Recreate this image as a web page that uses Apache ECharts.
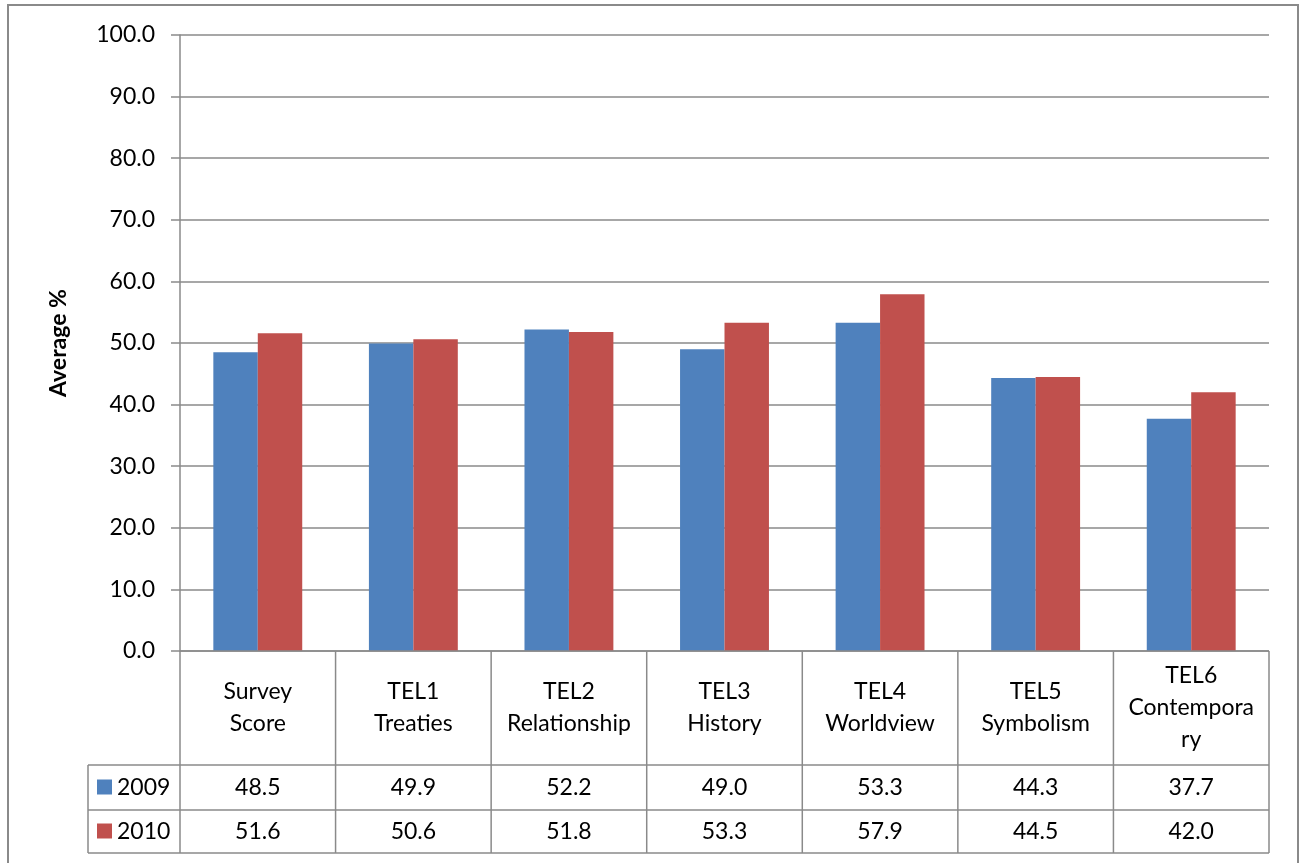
<!DOCTYPE html>
<html>
<head>
<meta charset="utf-8">
<script src="https://cdn.jsdelivr.net/npm/echarts@6/dist/echarts.min.js"></script>
<style>
  html, body { margin: 0; padding: 0; background: #ffffff; }
  #chart { width: 1299px; height: 863px; }
</style>
</head>
<body>
<div id="chart"></div>
<script>
// Category headers of the data table (line breaks as wrapped in the cells)
const categories = [
  'Survey\nScore',
  'TEL1\nTreaties',
  'TEL2\nRelationship',
  'TEL3\nHistory',
  'TEL4\nWorldview',
  'TEL5\nSymbolism',
  'TEL6\nContempora\nry'
];
const seriesNames = ['2009', '2010'];
const values2009 = [48.5, 49.9, 52.2, 49.0, 53.3, 44.3, 37.7];
const values2010 = [51.6, 50.6, 51.8, 53.3, 57.9, 44.5, 42.0];
const seriesColors = ['#4F81BD', '#C0504D'];

const FONT = 'Lato, "Open Sans", sans-serif';
const FS = 23;
const LINE = '#8a8a8a';

const chart = echarts.init(document.getElementById('chart'), null, { renderer: 'canvas' });

const gridBox = { left: 180, top: 35, right: 30, bottom: 212 };

const option = {
  animation: false,
  backgroundColor: '#ffffff',
  grid: gridBox,
  xAxis: {
    type: 'category',
    data: categories,
    axisLine: { show: false },
    axisTick: { show: false },
    axisLabel: {
      interval: 0,
      margin: 57,
      verticalAlign: 'middle',
      lineHeight: 32,
      fontSize: FS,
      fontFamily: FONT,
      color: '#000000'
    },
    splitLine: { show: false }
  },
  yAxis: {
    type: 'value',
    min: 0,
    max: 100,
    interval: 10,
    name: 'Average %',
    nameLocation: 'middle',
    nameGap: 110,
    nameRotate: 90,
    nameTextStyle: { fontSize: FS, fontWeight: 'bold', fontFamily: FONT, color: '#000000' },
    axisLine: { show: true, lineStyle: { color: LINE, width: 1.5 } },
    axisTick: { show: true, inside: false, length: 9, lineStyle: { color: LINE, width: 1.5 } },
    axisLabel: {
      margin: 25,
      fontSize: FS,
      fontFamily: FONT,
      color: '#000000',
      formatter: v => v.toFixed(1)
    },
    splitLine: { show: true, lineStyle: { color: LINE, width: 1.5 } }
  },
  series: [
    {
      name: seriesNames[0],
      type: 'bar',
      data: values2009,
      barGap: '0%',
      barCategoryGap: '42.86%',
      itemStyle: { color: seriesColors[0] }
    },
    {
      name: seriesNames[1],
      type: 'bar',
      data: values2010,
      barGap: '0%',
      barCategoryGap: '42.86%',
      itemStyle: { color: seriesColors[1] }
    }
  ]
};

chart.setOption(option);

// Data table under the plot: grid lines, legend keys and value cells,
// positioned from the category axis scale.
function buildTable() {
  const centers = categories.map((c, i) => chart.convertToPixel({ xAxisIndex: 0 }, i));
  const step = centers[1] - centers[0];
  const x0 = centers[0] - step / 2;
  const xEnd = centers[centers.length - 1] + step / 2;
  const yAxis0 = chart.convertToPixel({ yAxisIndex: 0 }, 0);

  const headerBottom = 765;
  const rowBottoms = [810, 853];
  const rowTops = [headerBottom, rowBottoms[0]];
  const legendLeft = 88;

  const els = [];
  const line = (x1, y1, x2, y2) => els.push({
    type: 'line',
    shape: { x1, y1, x2, y2 },
    style: { stroke: LINE, lineWidth: 1.5 },
    silent: true, z: 10
  });

  // table horizontal rules
  line(x0, yAxis0, xEnd, yAxis0);
  line(legendLeft, headerBottom, xEnd, headerBottom);
  line(legendLeft, rowBottoms[0], xEnd, rowBottoms[0]);
  line(legendLeft, rowBottoms[1], xEnd, rowBottoms[1]);
  // vertical rules
  line(legendLeft, headerBottom, legendLeft, rowBottoms[1]);
  for (let i = 0; i <= categories.length; i++) {
    const x = x0 + i * step;
    line(x, yAxis0, x, rowBottoms[1]);
  }

  const rows = [values2009, values2010];
  rows.forEach((vals, r) => {
    const cy = (rowTops[r] + rowBottoms[r]) / 2;
    // legend key
    els.push({
      type: 'rect',
      shape: { x: legendLeft + 9, y: cy - 8, width: 15, height: 15 },
      style: { fill: seriesColors[r] },
      silent: true, z: 10
    });
    els.push({
      type: 'text',
      x: legendLeft + 29, y: cy,
      style: {
        text: seriesNames[r], fontSize: FS, fontFamily: FONT, fill: '#000000',
        align: 'left', verticalAlign: 'middle'
      },
      silent: true, z: 10
    });
    vals.forEach((v, i) => {
      els.push({
        type: 'text',
        x: centers[i], y: cy,
        style: {
          text: v.toFixed(1), fontSize: FS, fontFamily: FONT, fill: '#000000',
          align: 'center', verticalAlign: 'middle'
        },
        silent: true, z: 10
      });
    });
  });

  // chart frame
  els.push({
    type: 'rect',
    shape: { x: 8, y: 5, width: 1290, height: 880 },
    style: { fill: null, stroke: LINE, lineWidth: 2 },
    silent: true, z: 0
  });

  chart.setOption({ graphic: { elements: els } });
}

buildTable();
</script>
</body>
</html>
